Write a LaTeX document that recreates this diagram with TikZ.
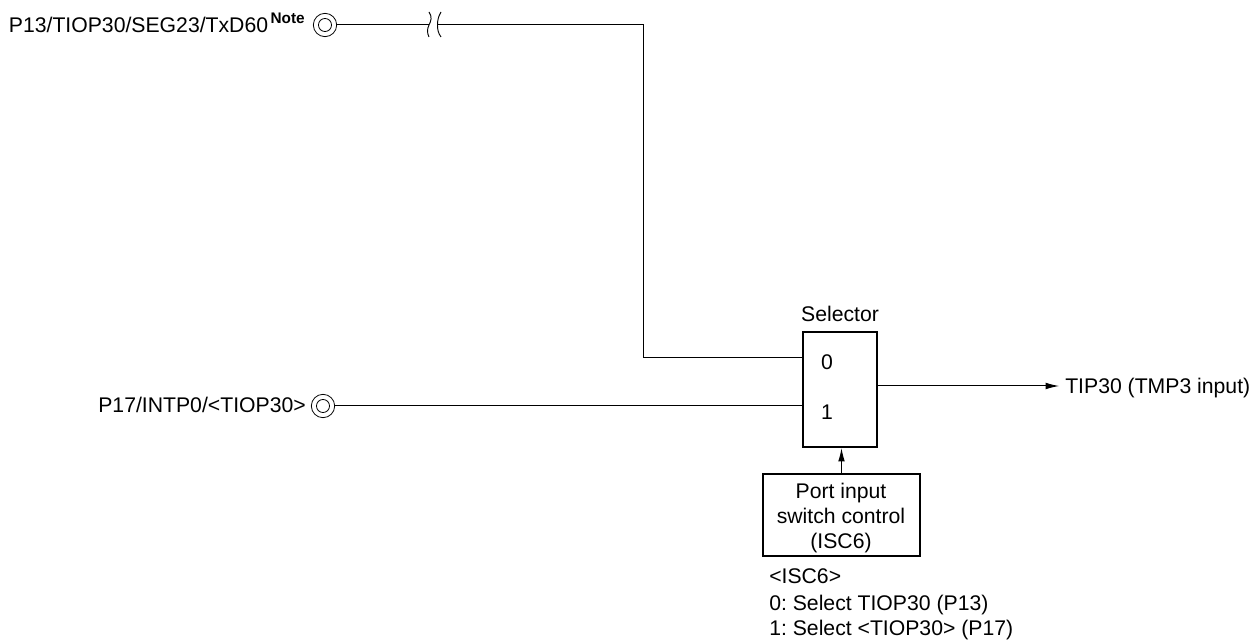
\documentclass[tikz,border=0pt]{standalone}
\usepackage{fontspec}
\setmainfont{Liberation Sans}
\usetikzlibrary{arrows.meta}
\tikzset{
  x=0.75pt,y=-0.75pt,
  lbl/.style={inner sep=0pt,font=\fontsize{15.9pt}{19pt}\selectfont\frenchspacing},
  heavy/.style={draw,line width=1.9pt,inner sep=0pt},
  wire/.style={line width=0.75pt},
  brk/.style={line width=0.7pt},
  pin/.style={circle,draw,line width=0.6pt,inner sep=0pt,minimum size=17.5pt,
    path picture={\draw[line width=0.6pt] (path picture bounding box.center) circle (4.9pt);}},
  tip/.style={-{Latex[length=10pt,width=5pt]}}
}
\begin{document}
\begin{tikzpicture}
\useasboundingbox (0,0) rectangle (1260,641);
\node[pin] (p1) at (325,25) {};
\node[pin] (p2) at (323,406) {};
\node[heavy,minimum width=55.5pt,minimum height=86pt] (sel) at (840,389.5) {};
\node[heavy,minimum width=117.5pt,minimum height=61.5pt] (ctl) at (841.5,515) {};
\node[lbl,anchor=base] (sell) at (840,322) {Selector};
\node[lbl,anchor=base] (zero) at (827,370) {0};
\node[lbl,anchor=base] (one) at (827,420) {1};
\node[lbl,anchor=base east] (p1l) at (305,33) {P13/TIOP30/SEG23/TxD60\kern1.9pt\raisebox{7pt}{\fontsize{11.5pt}{12pt}\selectfont\bfseries Note}};
\node[lbl,anchor=base east] (p2l) at (306,412) {P17/INTP0/<TIOP30>};
\node[lbl,anchor=base west] (out) at (1065,393) {TIP30 (TMP3 input)};
\node[lbl,anchor=base] (c1) at (841,498) {Port input};
\node[lbl,anchor=base] (c2) at (841,523) {switch control};
\node[lbl,anchor=base] (c3) at (841,548) {(ISC6)};
\node[lbl,anchor=base west] (n1) at (769,583) {<ISC6>};
\node[lbl,anchor=base west] (n2) at (769,610) {0: Select TIOP30 (P13)};
\node[lbl,anchor=base west] (n3) at (769,635) {1: Select <TIOP30> (P17)};
\coordinate (bk1) at (429,25);
\coordinate (bk2) at (438,25);
\coordinate (cn) at (643,25);
\coordinate (cs) at (643,358);
\coordinate (outend) at (1059,386);
\draw[wire] (p1.east) -- (bk1);
\draw[wire] (bk2) -- (cn) -- (cs) -- (sel.west |- cs);
\draw[wire] (p2.east) -- (sel.west |- p2);
\draw[wire,tip] (sel.east |- outend) -- (outend);
\draw[wire,tip] (ctl.north) -- (ctl.north |- sel.south);
\draw[brk] (429,12) .. controls (432.5,17) and (431,21) .. (429,25) .. controls (427,29) and (427,33) .. (429,37);
\draw[brk] (441,12) .. controls (438,17) and (437.5,21) .. (437.5,25) .. controls (437.5,29) and (438,33) .. (441,37);
\end{tikzpicture}
\end{document}
